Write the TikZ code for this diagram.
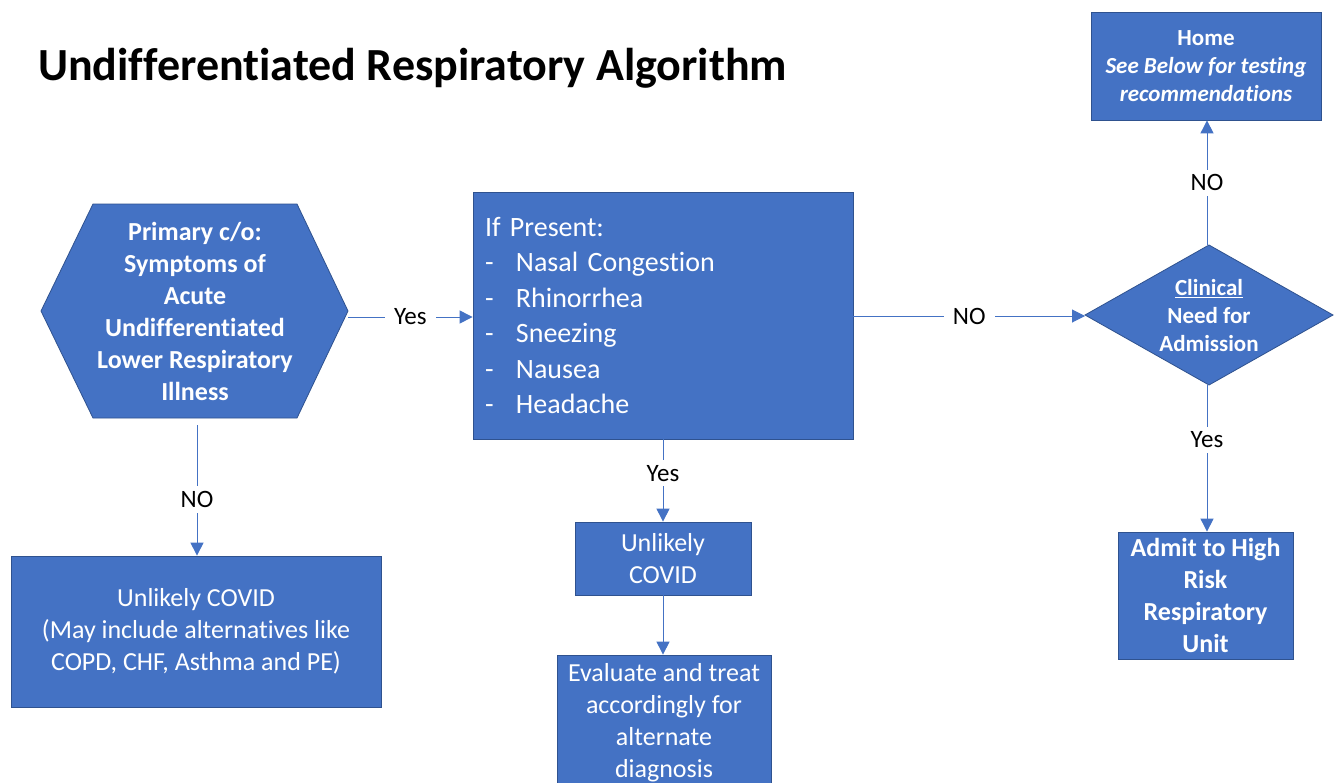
\documentclass[tikz,border=0pt]{standalone}
\usepackage{fontspec}
\setmainfont[RawFeature={-liga;-clig}]{Carlito}
\usetikzlibrary{arrows.meta}
\definecolor{boxblue}{HTML}{4472C4}
\definecolor{boxedge}{HTML}{2F528F}
\begin{document}
\begin{tikzpicture}[x=1pt,y=-1pt,
  box/.style={draw=boxedge,line width=0.8pt,fill=boxblue,text=white,inner sep=0pt,align=center},
  f26/.style={font=\fontsize{26}{32}\selectfont},
  f26b/.style={font=\fontsize{26}{32}\selectfont\bfseries},
  f23b/.style={font=\fontsize{23}{28}\selectfont\bfseries},
  lbl/.style={fill=white,text=black,font=\fontsize{25}{28}\selectfont,inner xsep=9pt,inner ysep=5pt},
  conn/.style={draw=boxblue,line width=1pt},
  arr/.style={conn,-{Triangle[length=13pt,width=13pt]}}
]
\clip (0,0) rectangle (1336,782);
\fill[white] (0,0) rectangle (1336,782);

% title
\node[anchor=base west,inner sep=0pt,font=\fontsize{46}{54}\selectfont\bfseries] (title) at (38,80) {Undifferentiated Respiratory Algorithm};

% hexagon
\filldraw[draw=boxedge,line width=0.8pt,fill=boxblue] (41,311)--(93,204)--(297,204)--(348,311)--(297,418)--(93,418)--cycle;
\node[text=white,align=center,f26b,inner sep=0pt] (hex) at (195,311) {Primary c/o:\\Symptoms of\\Acute\\Undifferentiated\\Lower Respiratory\\Illness};
\coordinate (hexR) at (348,317);
\coordinate (hexB) at (197,425);

% big box
\node[box,minimum width=380,minimum height=247,text width=356,align=left,
  font=\fontsize{28}{35.5}\selectfont] (present) at (663,315.5)
  {If Present:\\
   \makebox[31pt][l]{-}Nasal Congestion\\
   \makebox[31pt][l]{-}Rhinorrhea\\
   \makebox[31pt][l]{-}Sneezing\\
   \makebox[31pt][l]{-}Nausea\\
   \makebox[31pt][l]{-}Headache};

% diamond
\filldraw[draw=boxedge,line width=0.8pt,fill=boxblue] (1085,315)--(1209,245)--(1333,315)--(1209,385)--cycle;
\node[text=white,align=center,f23b,inner sep=0pt] (dia) at (1209,316) {\underline{Clinical}\\Need for\\Admission};
\coordinate (diaL) at (1085,316);
\coordinate (diaT) at (1207,245);
\coordinate (diaB) at (1207,385);

% home box
\node[box,minimum width=230,minimum height=108,f23b] (home) at (1206,66)
  {Home\\\textit{See Below for testing}\\\textit{recommendations}};

% admit box
\node[box,minimum width=175,minimum height=127,f26b] (admit) at (1205.5,595.5)
  {Admit to High\\Risk\\Respiratory\\Unit};

% left box
\node[box,minimum width=370,minimum height=151,f26] (left) at (196,631.5)
  {Unlikely COVID\\(May include alternatives like\\COPD, CHF, Asthma and PE)};

% small unlikely box
\node[box,minimum width=176,minimum height=73,f26] (unlikely) at (663,558.5)
  {Unlikely\\COVID};

% evaluate box
\node[box,minimum width=214,minimum height=136,f26] (eval) at (664,723)
  {Evaluate and treat\\accordingly for\\alternate\\diagnosis};

% connectors
\draw[arr] (hexR) -- node[lbl] (l1) {Yes} (present.west |- hexR);
\draw[arr] (present.east |- diaL) -- node[lbl] (l2) {NO} (diaL);
\draw[arr] (diaT) -- node[lbl,pos=0.5] (l3) {NO} (diaT |- home.south);
\draw[arr] (diaB) -- node[lbl,pos=0.374] (l4) {Yes} (diaB |- admit.north);
\draw[arr] (hexB) -- node[lbl,pos=0.57] (l5) {NO} (hexB |- left.north);
\draw[arr] (present.south) -- node[lbl,pos=0.41] (l6) {Yes} (unlikely.north);
\draw[arr] (unlikely.south) -- (unlikely.south |- eval.north);
\end{tikzpicture}
\end{document}
